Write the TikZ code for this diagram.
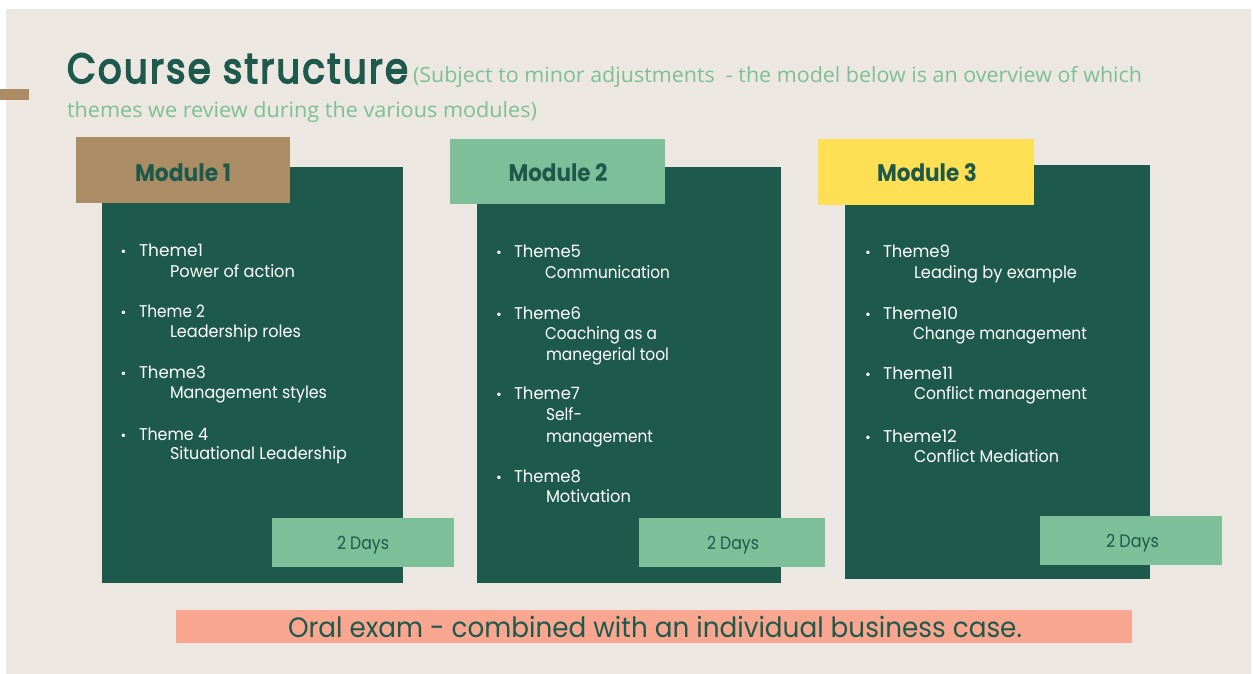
\documentclass[tikz,border=0pt]{standalone}
\usepackage{fontspec}
\usepackage{graphicx}
\setmainfont{Poppins}
\newfontfamily\subfont{Open Sans}
\newfontfamily\titlefont[FakeBold=4,LetterSpace=6]{Poppins}
\definecolor{dkgreen}{HTML}{1E5A4B}
\definecolor{ltgreen}{HTML}{7DBF98}
\definecolor{tan}{HTML}{AB8C65}
\definecolor{yel}{HTML}{FFE055}
\definecolor{salmon}{HTML}{F8A690}
\definecolor{bgc}{HTML}{ECE7E0}
\newcommand{\fitw}[2]{\resizebox{#1pt}{\height}{#2}}
\begin{document}
\begin{tikzpicture}[x=1pt,y=-1pt,
  every node/.style={inner sep=0pt,outer sep=0pt},
  blk/.style={anchor=north west,draw=none},
  panel/.style={blk,fill=dkgreen},
  days/.style={blk,fill=ltgreen},
  th/.style={anchor=base west,text=white,font=\fontsize{17}{17}\selectfont},
  bul/.style={anchor=base,text=white,font=\fontsize{14}{14}\selectfont},
  modlbl/.style={anchor=base,text=dkgreen,font=\fontsize{24}{24}\selectfont\bfseries},
  dayslbl/.style={anchor=base west,text=dkgreen,font=\fontsize{18}{18}\selectfont},
  subt/.style={anchor=base west,text=ltgreen,font=\subfont\fontsize{21}{21}\selectfont}]
\useasboundingbox (0,0) rectangle (1253,674);
\fill[white] (0,0) rectangle (1253,674);
\node[blk,fill=bgc,minimum width=1245pt,minimum height=665pt] (bg) at (6,9) {};
\node[blk,fill=tan,minimum width=29pt,minimum height=11pt] (bar) at (0,89) {};
% title
\node[anchor=base west,text=dkgreen,font=\titlefont\fontsize{42}{42}\selectfont] (title) at (67,83) {\fitw{341}{Course structure}};
\node[subt] (sub1) at (413,83) {\fitw{729}{(Subject to minor adjustments\ \ - the model below is an overview of which}};
\node[subt] (sub2) at (67,118) {\fitw{470}{themes we review during the various modules)}};
% Module 1
\node[panel,minimum width=301pt,minimum height=416pt] (box1) at (102,167) {};
\node[blk,fill=tan,minimum width=214pt,minimum height=66pt] (hdr1) at (76,137) {};
\node[modlbl] (m1) at (183,181) {\fitw{96}{Module 1}};
\node[days,minimum width=182pt,minimum height=49pt] (d1) at (272,518) {};
\node[dayslbl] (d1t) at (337,549) {\fitw{52}{2 Days}};
\node[bul] (b1) at (123.5,256) {•};
\node[th] (t1) at (139,256) {\fitw{64}{Theme1}};
\node[th] (s1) at (170,277) {\fitw{125}{Power of action}};
\node[bul] (b2) at (123.5,317) {•};
\node[th] (t2) at (139,317) {\fitw{66}{Theme 2}};
\node[th] (s2) at (170,337) {\fitw{131}{Leadership roles}};
\node[bul] (b3) at (123.5,378) {•};
\node[th] (t3) at (139,378) {\fitw{67}{Theme3}};
\node[th] (s3) at (170,398) {\fitw{157}{Management styles}};
\node[bul] (b4) at (123.5,440) {•};
\node[th] (t4) at (139,440) {\fitw{69}{Theme 4}};
\node[th] (s4) at (170,459) {\fitw{177}{Situational Leadership}};
% Module 2
\node[panel,minimum width=304pt,minimum height=416pt] (box2) at (477,167) {};
\node[blk,fill=ltgreen,minimum width=215pt,minimum height=65pt] (hdr2) at (450,139) {};
\node[modlbl] (m2) at (558,182) {\fitw{99}{Module 2}};
\node[days,minimum width=186pt,minimum height=49pt] (d2) at (639,518) {};
\node[dayslbl] (d2t) at (707,549) {\fitw{52}{2 Days}};
\node[bul] (b5) at (499,257) {•};
\node[th] (t5) at (514,257) {\fitw{67}{Theme5}};
\node[th] (s5) at (545,278) {\fitw{125}{Communication}};
\node[bul] (b6) at (499,319) {•};
\node[th] (t6) at (514,319) {\fitw{67}{Theme6}};
\node[th] (s6a) at (545,339) {\fitw{112}{Coaching as a}};
\node[th] (s6b) at (546,360) {\fitw{123}{manegerial tool}};
\node[bul] (b7) at (499,399) {•};
\node[th] (t7) at (514,399) {\fitw{66}{Theme7}};
\node[th] (s7a) at (546,420) {\fitw{36}{Self-}};
\node[th] (s7b) at (546,442) {\fitw{107}{management}};
\node[bul] (b8) at (499,482) {•};
\node[th] (t8) at (514,482) {\fitw{67}{Theme8}};
\node[th] (s8) at (546,502) {\fitw{85}{Motivation}};
% Module 3
\node[panel,minimum width=305pt,minimum height=414pt] (box3) at (845,165) {};
\node[blk,fill=yel,minimum width=216pt,minimum height=66pt] (hdr3) at (818,139) {};
\node[modlbl] (m3) at (927,182) {\fitw{100}{Module 3}};
\node[days,minimum width=182pt,minimum height=49pt] (d3) at (1040,516) {};
\node[dayslbl] (d3t) at (1106,547) {\fitw{53}{2 Days}};
\node[bul] (b9) at (868,257) {•};
\node[th] (t9) at (883,257) {\fitw{67}{Theme9}};
\node[th] (s9) at (914,278) {\fitw{163}{Leading by example}};
\node[bul] (b10) at (868,319) {•};
\node[th] (t10) at (883,319) {\fitw{75}{Theme10}};
\node[th] (s10) at (913,339) {\fitw{174}{Change management}};
\node[bul] (b11) at (868,379) {•};
\node[th] (t11) at (883,379) {\fitw{70}{Theme11}};
\node[th] (s11) at (914,399) {\fitw{173}{Conflict management}};
\node[bul] (b12) at (868,442) {•};
\node[th] (t12) at (883,442) {\fitw{74}{Theme12}};
\node[th] (s12) at (914,462) {\fitw{145}{Conflict Mediation}};
% bottom bar
\node[blk,fill=salmon,minimum width=956pt,minimum height=33pt] (exam) at (176,610) {};
\node[anchor=base west,text=dkgreen,font=\fontsize{28}{28}\selectfont] (examt) at (288,637) {\fitw{734}{Oral exam - combined with an individual business case.}};
\end{tikzpicture}
\end{document}
